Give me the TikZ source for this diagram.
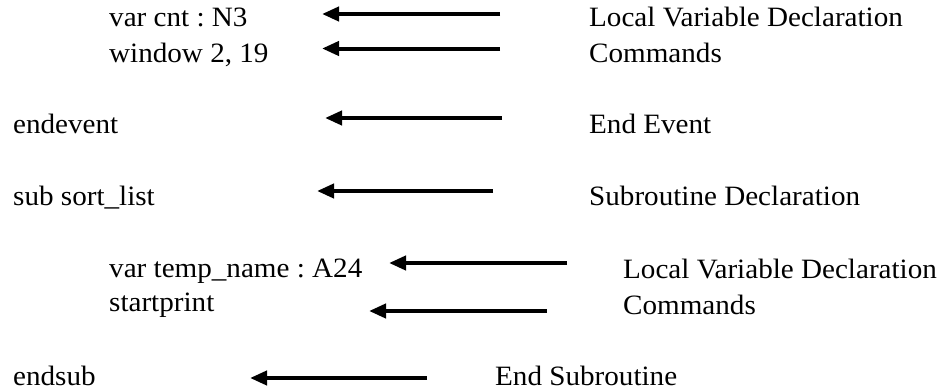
\documentclass[tikz,border=0pt]{standalone}
\usepackage{fontspec}
\setmainfont{Liberation Serif}[FakeStretch=1.04]
\usetikzlibrary{arrows.meta}
\frenchspacing
\begin{document}
\begin{tikzpicture}[x=1pt,y=-1pt,
  lbl/.style={anchor=base west,inner sep=0pt,font=\fontsize{28}{32}\selectfont},
  pointer/.style={line width=4pt,-{Triangle[length=17pt,width=14pt]}}]
\useasboundingbox (0,0) rectangle (940,391);
% left column
\node[lbl] (t1) at (109,26.5) {var cnt : N3};
\node[lbl] (t2) at (109,62) {window 2, 19};
\node[lbl] (t3) at (13,133) {endevent};
\node[lbl] (t4) at (13,205) {sub sort\_list};
\node[lbl] (t5) at (109,277) {var temp\_name : A24};
\node[lbl] (t6) at (109,311) {startprint};
\node[lbl] (t7) at (13,385) {endsub};
% right column
\node[lbl] (r1) at (589,26.5) {Local Variable Declaration};
\node[lbl] (r2) at (589,62) {Commands};
\node[lbl] (r3) at (589,133) {End Event};
\node[lbl] (r4) at (589,205) {Subroutine Declaration};
\node[lbl] (r5) at (623,278) {Local Variable Declaration};
\node[lbl] (r6) at (623,314) {Commands};
\node[lbl] (r7) at (495,385) {End Subroutine};
% arrow ends
\coordinate (s1) at (500,14);   \coordinate (e1) at (322,14);
\coordinate (s2) at (500,48.5); \coordinate (e2) at (322,48.5);
\coordinate (s3) at (502,118);  \coordinate (e3) at (325,118);
\coordinate (s4) at (493,191);  \coordinate (e4) at (317,191);
\coordinate (s5) at (567,263);  \coordinate (e5) at (389,263);
\coordinate (s6) at (547,311);  \coordinate (e6) at (369,311);
\coordinate (s7) at (427,378);  \coordinate (e7) at (250,378);
\foreach \i in {1,...,7} \draw[pointer] (s\i) -- (e\i);
\end{tikzpicture}
\end{document}
